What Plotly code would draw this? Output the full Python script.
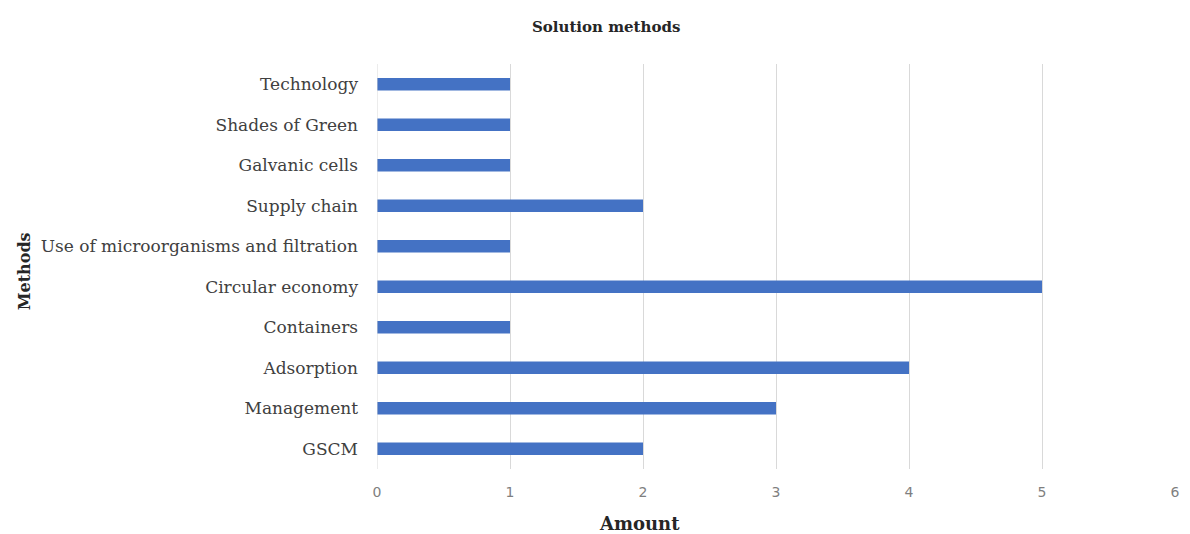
import plotly.graph_objects as go

categories = ["GSCM", "Management", "Adsorption", "Containers", "Circular economy",
              "Use of microorganisms and filtration", "Supply chain", "Galvanic cells",
              "Shades of Green", "Technology"]
amounts = [2, 3, 4, 1, 5, 1, 2, 1, 1, 1]
x_ticks = [0, 1, 2, 3, 4, 5, 6]

L, R, T, B = 377, 10, 64, 65
W, H = 1190, 534
pw, ph = W - L - R, H - T - B

fig = go.Figure(go.Bar(
    y=categories, x=amounts, orientation="h",
    marker=dict(color="#4472C4", line=dict(width=0)),
    width=0.31,
))

serif = "DejaVu Serif"
fig.update_layout(
    width=W, height=H,
    margin=dict(l=L, r=R, t=T, b=B),
    plot_bgcolor="white", paper_bgcolor="white",
    showlegend=False,
    xaxis=dict(range=[0, 6], tickvals=x_ticks, showgrid=True, gridcolor="#D9D9D9", gridwidth=1,
               zeroline=False, showline=False, ticks="", ticklabelstandoff=13,
               tickfont=dict(family="DejaVu Sans", size=14, color="#7F7F7F")),
    yaxis=dict(categoryorder="array", categoryarray=categories, showgrid=False,
               zeroline=False, showline=False, ticks="", ticklabelstandoff=18,
               range=[-0.5, 9.5],
               tickfont=dict(family=serif, size=17, color="#404040")),
)

def px_x(p):
    return (p - L) / pw

def px_y(p):
    return (H - B - p) / ph

fig.add_annotation(text="<b>Solution methods</b>", xref="paper", yref="paper",
                   x=px_x(607), y=px_y(27), showarrow=False, xanchor="center", yanchor="middle",
                   font=dict(family=serif, size=15, color="#262626"))
fig.add_annotation(text="<b>Amount</b>", xref="paper", yref="paper",
                   x=px_x(641), y=px_y(523), showarrow=False, xanchor="center", yanchor="middle",
                   font=dict(family=serif, size=18, color="#262626"))
fig.add_annotation(text="<b>Methods</b>", xref="paper", yref="paper", textangle=-90,
                   x=px_x(22), y=px_y(271), showarrow=False, xanchor="center", yanchor="middle",
                   font=dict(family=serif, size=16, color="#262626"))

fig.add_shape(type="line", xref="x", yref="paper", x0=0, x1=0, y0=0, y1=1,
              line=dict(color="#D9D9D9", width=1))

fig.write_html("out.html")
